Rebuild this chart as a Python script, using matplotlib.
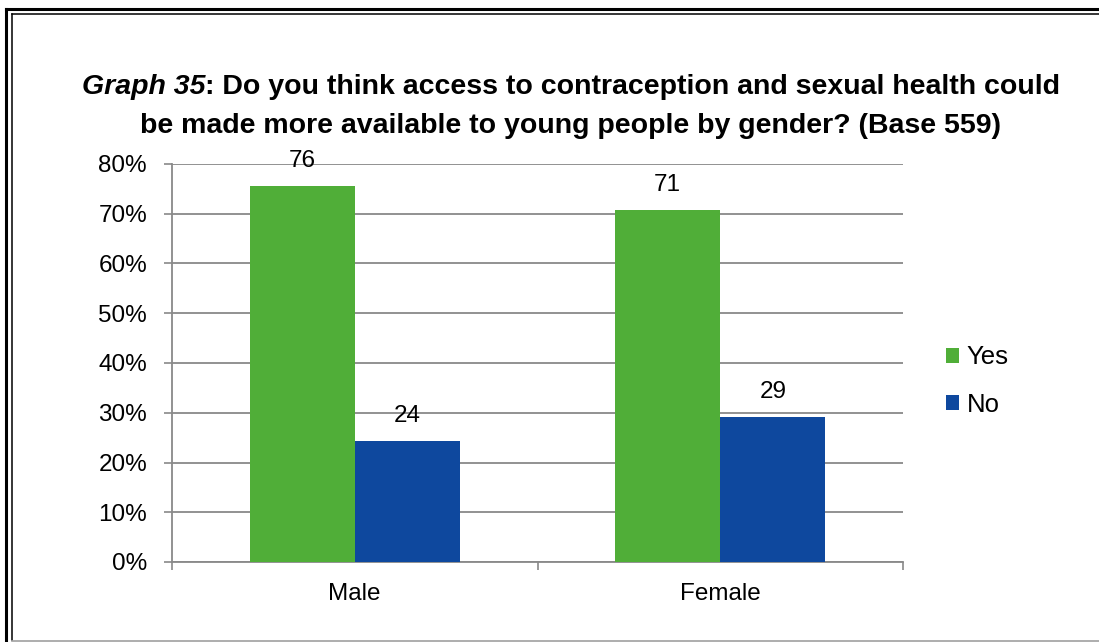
import matplotlib
matplotlib.use("Agg")
import matplotlib.pyplot as plt
from matplotlib.lines import Line2D
import numpy as np

categories = ["Male", "Female"]
series_names = ["Yes", "No"]
yes_vals = [75.6, 70.8]
no_vals = [24.4, 29.2]
yes_labels = ["76", "71"]
no_labels = ["24", "29"]
yticks = [0, 10, 20, 30, 40, 50, 60, 70, 80]

GREEN = "#50AE38"
BLUE = "#0E489E"
GRID = "#898989"

plt.rcParams["font.family"] = ["Liberation Sans", "DejaVu Sans"]

W, H = 1099, 642
fig = plt.figure(figsize=(W / 100, H / 100), dpi=100)

def fx(px):
    return px / W

def fy(py):
    return 1 - py / H

# frame around the chart (double line top/left, thin grey bottom)
fig.add_artist(Line2D([fx(6), fx(6)], [fy(8.5), 0], color="black", lw=2.2, transform=fig.transFigure))
fig.add_artist(Line2D([fx(6), 1], [fy(8.5), fy(8.5)], color="black", lw=2.2, transform=fig.transFigure))
fig.add_artist(Line2D([fx(11.5), fx(11.5)], [fy(13.5), fy(640)], color="black", lw=1.1, transform=fig.transFigure))
fig.add_artist(Line2D([fx(11.5), 1], [fy(13.5), fy(13.5)], color="black", lw=1.1, transform=fig.transFigure))
fig.add_artist(Line2D([fx(11.5), 1], [fy(640.5), fy(640.5)], color="#a0a0a0", lw=1.2, transform=fig.transFigure))

# title, first part in italic
tsize = 20.5
t1 = fig.text(fx(82), fy(87), "Graph 35", fontsize=tsize, fontweight="bold", fontstyle="italic", va="center", ha="left")
t2 = fig.text(0, 0, ": Do you think access to contraception and sexual health could", fontsize=tsize,
              fontweight="bold", va="center", ha="left")
fig.canvas.draw()
r = fig.canvas.get_renderer()
w1 = t1.get_window_extent(r).width
w2 = t2.get_window_extent(r).width
x0 = 571 - (w1 + w2) / 2
t1.set_x(fx(x0))
t2.set_position((fx(x0 + w1), fy(87)))
fig.text(fx(571), fy(126), "be made more available to young people by gender? (Base 559)", fontsize=tsize,
         fontweight="bold", va="center", ha="center")

ax = fig.add_axes([fx(172), fy(562), fx(903) - fx(172), fy(164) - fy(562)])
x = np.arange(len(categories))
bw = 0.2875
b1 = ax.bar(x - bw / 2, yes_vals, bw, color=GREEN, label=series_names[0], zorder=3)
b2 = ax.bar(x + bw / 2, no_vals, bw, color=BLUE, label=series_names[1], zorder=3)

fs = 17.5
for bars, labs in ((b1, yes_labels), (b2, no_labels)):
    for b, lab in zip(bars, labs):
        ax.annotate(lab, (b.get_x() + b.get_width() / 2, b.get_height()), xytext=(0, 14),
                    textcoords="offset pixels", ha="center", va="bottom", fontsize=fs)

ax.set_xlim(-0.5, 1.5)
ax.set_ylim(0, 80)
ax.set_yticks(yticks)
ax.set_yticklabels([f"{v}%" for v in yticks], fontsize=fs)
ax.yaxis.grid(True, color=GRID, lw=1.3, zorder=0)
ax.set_axisbelow(True)

ax.set_xticks([-0.5, 0.5, 1.5])
ax.set_xticklabels([])
ax.set_xticks(x, minor=True)
ax.set_xticklabels(categories, minor=True, fontsize=fs)
ax.tick_params(axis="x", which="minor", length=0, pad=15)
ax.tick_params(axis="x", which="major", length=6, color=GRID, width=1.2)
ax.tick_params(axis="y", length=6, color=GRID, width=1.2, pad=12)

for s in ("top", "right"):
    ax.spines[s].set_visible(False)
for s in ("left", "bottom"):
    ax.spines[s].set_color(GRID)
    ax.spines[s].set_linewidth(1.3)

ax.legend(loc="center left", bbox_to_anchor=(fx(936), fy(381)), bbox_transform=fig.transFigure,
          frameon=False, fontsize=18.5, handlelength=0.5, handleheight=0.5, handletextpad=0.3,
          labelspacing=0.9, borderaxespad=0)

fig.savefig("out.png", dpi=100)
